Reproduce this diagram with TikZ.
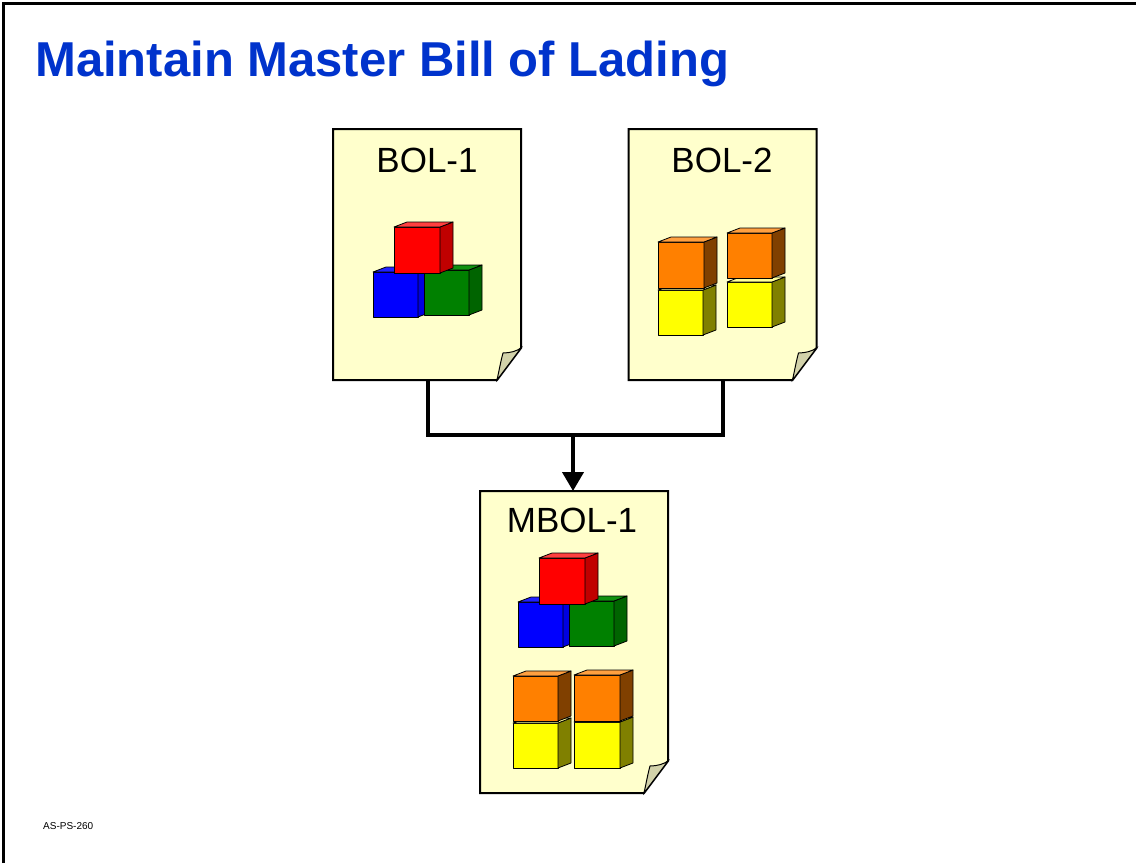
\documentclass[tikz,border=0pt]{standalone}
\usepackage{fontspec}
\setmainfont{Liberation Sans}
\usetikzlibrary{calc,arrows.meta}

\definecolor{titleblue}{HTML}{0033CC}
\definecolor{paper}{HTML}{FFFFCC}
\definecolor{flapgrey}{HTML}{D2D2AA}
\definecolor{redF}{HTML}{FF0000}\definecolor{redS}{HTML}{C00000}\definecolor{redT}{HTML}{FF4040}
\definecolor{blueF}{HTML}{0000FF}\definecolor{blueS}{HTML}{0000E0}\definecolor{blueT}{HTML}{2020FF}
\definecolor{greenF}{HTML}{008000}\definecolor{greenS}{HTML}{006400}\definecolor{greenT}{HTML}{109010}
\definecolor{orangeF}{HTML}{FF8000}\definecolor{orangeS}{HTML}{804000}\definecolor{orangeT}{HTML}{FFA040}
\definecolor{yellowF}{HTML}{FFFF00}\definecolor{yellowS}{HTML}{808000}\definecolor{yellowT}{HTML}{FFFF99}

\tikzset{
  pagebox/.style={inner sep=0pt, outer sep=0pt},
  pageline/.style={draw=black, line width=2pt, fill=paper, line join=miter},
  flapfill/.style={draw=black, line width=1pt, fill=flapgrey},
  doclabel/.style={font=\fontsize{35}{40}\selectfont, inner sep=0pt},
  cubeline/.style={draw=black, line width=0.8pt, line join=round},
  conn/.style={line width=4pt, draw=black},
}

% one cube: x, y (top-left of front face), size, front, side, top colours
\newcommand\blockcube[6]{%
  \filldraw[cubeline, fill=#4] (#1,#2) rectangle ++(#3,#3);
  \filldraw[cubeline, fill=#5] (#1+#3,#2) -- ++(13,-5) -- ++(0,#3) -- ++(-13,5) -- cycle;
  \filldraw[cubeline, fill=#6] (#1,#2) -- ++(13,-5) -- ++(#3,0) -- ++(-13,5) -- cycle;
}

% sheet of paper with a curled bottom-right corner, drawn round a node
\newcommand\docsheet[1]{%
  \path[pageline] (#1.north west) -- (#1.north east) -- ($(#1.south east)+(0,-32)$)
    -- ($(#1.south east)+(-24,0)$) -- (#1.south west) -- cycle;
  \path[flapfill] ($(#1.south east)+(-24,0)$) .. controls ($(#1.south east)+(-22,-9)$) and ($(#1.south east)+(-20,-20)$) ..
    ($(#1.south east)+(-18,-27)$) .. controls ($(#1.south east)+(-11,-27)$) and ($(#1.south east)+(-4,-29)$) ..
    ($(#1.south east)+(0,-32)$) -- cycle;
}

\begin{document}
\begin{tikzpicture}[x=1pt, y=-1pt]
\useasboundingbox (0,0) rectangle (1136,863);

% slide frame
\draw[line width=3pt] (3,863) -- (3,3) -- (1136,3);

% heading and footer
\node[anchor=base west, inner sep=0pt, text=titleblue, font=\fontsize{49}{56}\selectfont\bfseries] (title) at (35,76) {Maintain Master Bill of Lading};
\node[anchor=base west, inner sep=0pt, font=\fontsize{10}{12}\selectfont] (footer) at (43,829) {AS-PS-260};

% the three documents
\node[pagebox, minimum width=188pt, minimum height=251pt] (b1) at (427,254.5) {};
\node[pagebox, minimum width=188pt, minimum height=251pt] (b2) at (722.5,254.5) {};
\node[pagebox, minimum width=188pt, minimum height=302pt] (m) at (574,642) {};

\docsheet{b1}
\docsheet{b2}
\docsheet{m}

\node[doclabel] (b1t) at (427,160) {BOL-1};
\node[doclabel] (b2t) at (722,160) {BOL-2};
\node[doclabel] (mt) at (572,520) {MBOL-1};

% BOL-1 contents
\blockcube{373}{272}{45}{blueF}{blueS}{blueT}
\blockcube{424}{270}{45}{greenF}{greenS}{greenT}
\blockcube{394}{227}{46}{redF}{redS}{redT}

% BOL-2 contents
\blockcube{658}{290}{45}{yellowF}{yellowS}{yellowT}
\blockcube{658}{242}{46}{orangeF}{orangeS}{orangeT}
\blockcube{727}{282}{45}{yellowF}{yellowS}{yellowT}
\blockcube{727}{233}{45}{orangeF}{orangeS}{orangeT}

% MBOL-1 contents
\blockcube{518}{602}{45}{blueF}{blueS}{blueT}
\blockcube{569}{601}{45}{greenF}{greenS}{greenT}
\blockcube{539}{558}{46}{redF}{redS}{redT}
\blockcube{513}{723}{45}{yellowF}{yellowS}{yellowT}
\blockcube{513}{676}{45}{orangeF}{orangeS}{orangeT}
\blockcube{574}{722}{46}{yellowF}{yellowS}{yellowT}
\blockcube{574}{675}{46}{orangeF}{orangeS}{orangeT}

% merge connector
\coordinate (j) at (573,435);
\draw[conn] ([xshift=1pt]b1.south) |- (j) -| ([xshift=0.5pt]b2.south);
\draw[conn, -{Triangle[width=21pt,length=19pt]}] (j) -- (m.north -| j);
\end{tikzpicture}
\end{document}
